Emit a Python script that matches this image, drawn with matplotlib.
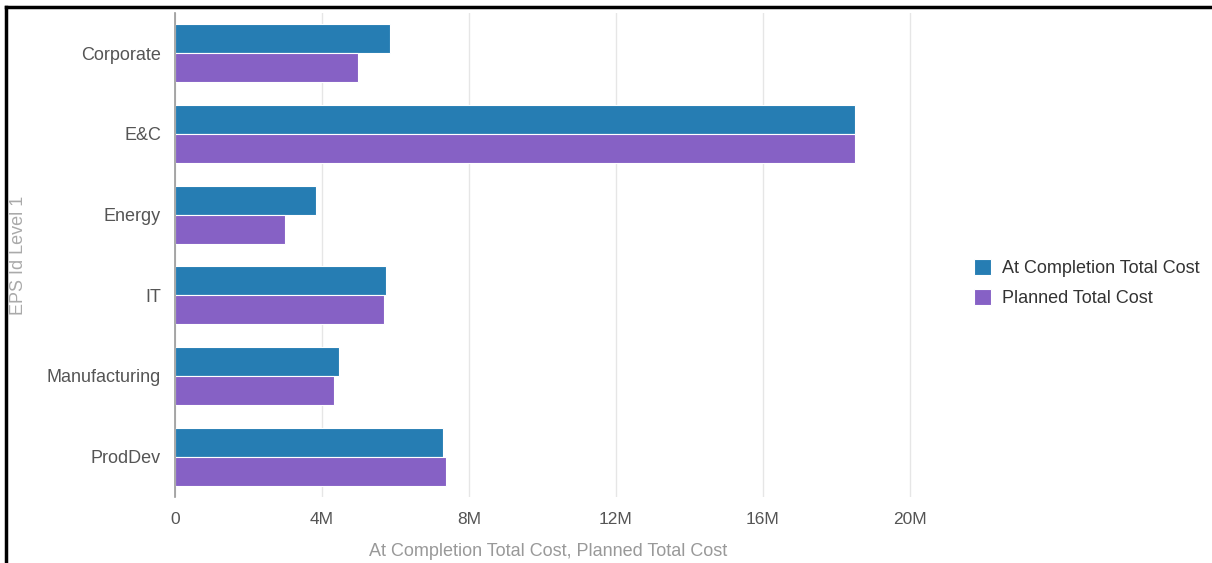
import matplotlib
matplotlib.use("Agg")
import matplotlib.pyplot as plt
import numpy as np
from matplotlib.lines import Line2D

categories = ["Corporate", "E&C", "Energy", "IT", "Manufacturing", "ProdDev"]
at_completion = [5.85, 18.5, 3.84, 5.74, 4.46, 7.29]  # millions
planned = [4.98, 18.5, 2.99, 5.69, 4.33, 7.37]
xticks = [0, 4, 8, 12, 16, 20]
xtick_labels = ["0", "4M", "8M", "12M", "16M", "20M"]
series_names = ["At Completion Total Cost", "Planned Total Cost"]
colors = ["#267db3", "#8661c5"]

plt.rcParams['font.family'] = ['Liberation Sans', 'DejaVu Sans']

W, H = 1212, 563
fig = plt.figure(figsize=(W / 100, H / 100), dpi=100)
ax = fig.add_axes([175 / W, 1 - 497 / H, (921 - 175) / W, (497 - 13) / H])

y = np.arange(len(categories))
h = 0.36
ax.barh(y - h / 2, at_completion, height=h, color=colors[0], edgecolor="white", linewidth=0.8,
        label=series_names[0], zorder=3)
ax.barh(y + h / 2, planned, height=h, color=colors[1], edgecolor="white", linewidth=0.8,
        label=series_names[1], zorder=3)

ax.set_ylim(len(categories) - 0.5, -0.5)
ax.set_xlim(0, 20.3)
ax.set_yticks(y)
ax.set_yticklabels(categories, fontsize=13, color="#555555")
ax.set_xticks(xticks)
ax.set_xticklabels(xtick_labels, fontsize=12.5, color="#555555")
ax.tick_params(axis="y", length=0, pad=10)
ax.tick_params(axis="x", length=0, pad=11)
ax.grid(axis="x", color="#e6e6e6", linewidth=1, zorder=0)
for s in ["top", "right", "bottom"]:
    ax.spines[s].set_visible(False)
ax.spines["left"].set_color("#999999")
ax.spines["left"].set_linewidth(1.2)
ax.spines["left"].set_zorder(4)

ax.set_xlabel("At Completion Total Cost, Planned Total Cost", fontsize=13, color="#999999")
ax.xaxis.set_label_coords(0.5, -(543 - 497) / (497 - 13))
ax.set_ylabel("EPS Id Level 1", fontsize=13, color="#aaaaaa", labelpad=0)
ax.yaxis.set_label_coords(-(175 - 27) / (921 - 175), 0.5)

leg = fig.legend(loc="upper left", bbox_to_anchor=(958 / W, 1 - 243 / H), frameon=False,
                 fontsize=13, handlelength=0.95, handleheight=0.95, handletextpad=0.6,
                 labelspacing=0.65, labelcolor="#333333")

# partial frame: left and top black borders
fig.add_artist(Line2D([6 / W, 6 / W], [0, 1 - 7 / H], transform=fig.transFigure,
                      color="black", linewidth=2.5, solid_capstyle="projecting"))
fig.add_artist(Line2D([6 / W, 1], [1 - 7 / H, 1 - 7 / H], transform=fig.transFigure,
                      color="black", linewidth=2.5, solid_capstyle="projecting"))

fig.savefig("out.png", dpi=100)
